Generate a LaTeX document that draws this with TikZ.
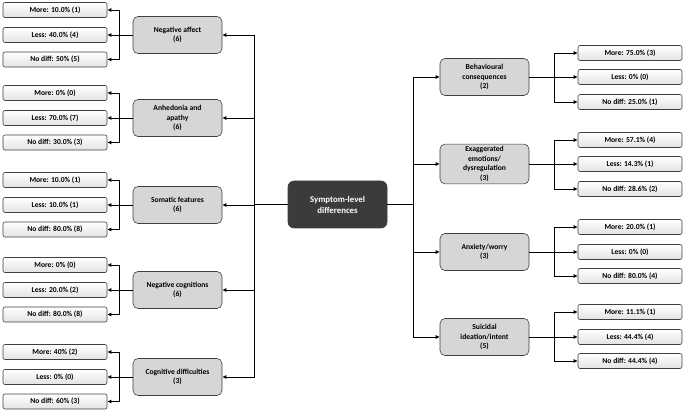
\documentclass[tikz,border=0pt]{standalone}
\usepackage{fontspec}
\setmainfont{Carlito}
\usepackage{xcolor}
\usepackage{tikz}
\usetikzlibrary{arrows.meta,positioning,calc}

\definecolor{darkbox}{HTML}{3B3B3B}
\definecolor{catgray}{HTML}{D6D6D6}
\definecolor{edgegray}{HTML}{3F3F3F}

\begin{document}
\begin{tikzpicture}[x=1pt, y=-1pt,
    root/.style={rectangle, draw=edgegray, fill=darkbox, text=white, minimum width=99pt, minimum height=47pt, align=center, rounded corners=6pt, font=\bfseries\fontsize{8.8}{11}\selectfont, line width=0.6pt},
    cat/.style={rectangle, draw=edgegray, fill=catgray, minimum width=89pt, minimum height=37pt, align=center, rounded corners=5pt, inner sep=2pt, font=\bfseries\fontsize{7.6}{9.8}\selectfont, line width=0.6pt},
    leaf/.style={rectangle, draw=edgegray, top color=white, bottom color=gray!22, minimum width=104pt, minimum height=15pt, inner sep=1pt, align=center, rounded corners=2pt, font=\bfseries\fontsize{7.6}{9}\selectfont, line width=0.6pt},
    arrow/.style={-{Latex[length=4pt,width=4pt]}, line width=0.7pt},
    link/.style={line width=0.7pt}
]
\useasboundingbox (0,0) rectangle (685,411);

\node[root] (sym) at (337.5,204.5) {Symptom-level\\differences};

% left side
\node[cat] (negaff) at (177.5,35) {Negative affect\\(6)};
\node[cat] (anhed) at (177.5,118) {Anhedonia and\\apathy\\(6)};
\node[cat] (somat) at (177.5,205) {Somatic features\\(6)};
\node[cat] (negcog) at (177.5,290) {Negative cognitions\\(6)};
\node[cat] (cogdif) at (177.5,377) {Cognitive difficulties\\(3)};

\node[leaf] (negaff1) at (55,10) {More: 10.0\% (1)};
\node[leaf] (negaff2) at (55,35) {Less: 40.0\% (4)};
\node[leaf] (negaff3) at (55,59.5) {No diff: 50\% (5)};
\node[leaf] (anhed1) at (55,93) {More: 0\% (0)};
\node[leaf] (anhed2) at (55,118) {Less: 70.0\% (7)};
\node[leaf] (anhed3) at (55,142.5) {No diff: 30.0\% (3)};
\node[leaf] (somat1) at (55,180) {More: 10.0\% (1)};
\node[leaf] (somat2) at (55,205) {Less: 10.0\% (1)};
\node[leaf] (somat3) at (55,229.5) {No diff: 80.0\% (8)};
\node[leaf] (negcog1) at (55,265) {More: 0\% (0)};
\node[leaf] (negcog2) at (55,290) {Less: 20.0\% (2)};
\node[leaf] (negcog3) at (55,314.5) {No diff: 80.0\% (8)};
\node[leaf] (cogdif1) at (55,352) {More: 40\% (2)};
\node[leaf] (cogdif2) at (55,377) {Less: 0\% (0)};
\node[leaf] (cogdif3) at (55,401.5) {No diff: 60\% (3)};

% right side
\node[cat] (behav) at (484.5,77) {Behavioural\\consequences\\(2)};
\node[cat] (exagg) at (484.5,164) {Exaggerated\\emotions/\\dysregulation\\(3)};
\node[cat] (anxw) at (484.5,252) {Anxiety/worry\\(3)};
\node[cat] (suic) at (484.5,337) {Suicidal\\ideation/intent\\(5)};

\node[leaf] (behav1) at (630,53) {More: 75.0\% (3)};
\node[leaf] (behav2) at (630,77) {Less: 0\% (0)};
\node[leaf] (behav3) at (630,102) {No diff: 25.0\% (1)};
\node[leaf] (exagg1) at (630,140) {More: 57.1\% (4)};
\node[leaf] (exagg2) at (630,164) {Less: 14.3\% (1)};
\node[leaf] (exagg3) at (630,189) {No diff: 28.6\% (2)};
\node[leaf] (anxw1) at (630,227) {More: 20.0\% (1)};
\node[leaf] (anxw2) at (630,252) {Less: 0\% (0)};
\node[leaf] (anxw3) at (630,276) {No diff: 80.0\% (4)};
\node[leaf] (suic1) at (630,312) {More: 11.1\% (1)};
\node[leaf] (suic2) at (630,337) {Less: 44.4\% (4)};
\node[leaf] (suic3) at (630,361) {No diff: 44.4\% (4)};

% trunks
\foreach \c in {negaff,anhed,somat,negcog,cogdif}
  \draw[arrow] (sym.west) -- ++(-33,0) |- (\c);
\foreach \c in {behav,exagg,anxw,suic}
  \draw[arrow] (sym.east) -- ++(26,0) |- (\c);

% branches
\foreach \c in {negaff,anhed,somat,negcog,cogdif} {
  \draw[arrow] (\c.west) -- ++(-13,0) |- (\c1);
  \draw[arrow] (\c) -- (\c2);
  \draw[arrow] (\c.west) -- ++(-13,0) |- (\c3);
}
\foreach \c in {behav,exagg,anxw,suic} {
  \draw[arrow] (\c.east) -- ++(25,0) |- (\c1);
  \draw[arrow] (\c) -- (\c2);
  \draw[arrow] (\c.east) -- ++(25,0) |- (\c3);
}
\end{tikzpicture}
\end{document}
